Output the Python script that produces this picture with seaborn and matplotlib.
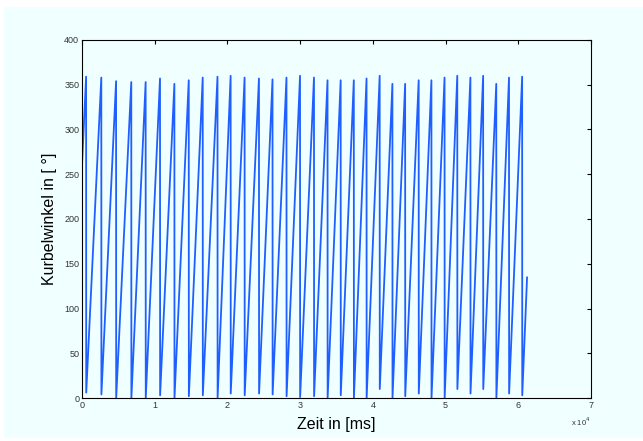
import numpy as np
import pandas as pd
import matplotlib
matplotlib.use("Agg")
import matplotlib.pyplot as plt
import seaborn as sns
from matplotlib.patches import Rectangle
from matplotlib.ticker import FuncFormatter, MultipleLocator

# --- data ---
# time [ms] at which each revolution wraps from ~360 back to ~0
wrap_times = [565, 2654, 4687, 6776, 8752, 10728, 12705, 14681, 16601, 18634,
              20440, 22360, 24336, 26200, 28120, 29983, 31903, 33766, 35573,
              37380, 39130, 40937, 42688, 44438, 46302, 48052, 49859, 51609,
              53416, 55166, 56973, 58723, 60530]
# crank angle just before each wrap [deg]
peak_values = [359, 358, 354, 353, 353, 357, 351, 355, 358, 359,
               360, 358, 357, 356, 358, 360, 358, 355, 355, 355,
               357, 360, 351, 351, 355, 355, 358, 360, 358, 360,
               351, 358, 359]
# crank angle just after each wrap [deg]
trough_values = [6, 4, 0, 0, 0, 3, 0, 2, 3, 0,
                 5, 3, 5, 4, 2, 1, 2, 0, 3, 0,
                 0, 10, 0, 2, 5, 0, 0, 10, 5, 10,
                 0, 5, 3]
start_time, start_value = 0, 260
end_time, end_value = 61208, 135

# build polyline vertices from the named arrays
t, a = [start_time], [start_value]
for wt, pv, tv in zip(wrap_times, peak_values, trough_values):
    t += [wt, wt + 15]
    a += [pv, tv]
t.append(end_time)
a.append(end_value)
df = pd.DataFrame({"Zeit": t, "Winkel": a})

sns.set_theme(style="white")
plt.rcParams["font.family"] = ["Liberation Sans", "DejaVu Sans"]

bg = "#F0FFFF"
fig = plt.figure(figsize=(6.43, 4.41), dpi=100)
fig.patch.set_facecolor("white")
fig.patches.append(Rectangle((4 / 643, 3 / 441), 1 - 4 / 643, 1 - 10 / 441,
                             transform=fig.transFigure, facecolor=bg,
                             edgecolor="none", zorder=-10))
ax = fig.add_axes([82 / 643, 1 - 398 / 441, 509 / 643, 358 / 441])
ax.set_facecolor(bg)

sns.lineplot(data=df, x="Zeit", y="Winkel", ax=ax, color="#1f5fff",
             linewidth=1.3, sort=False, estimator=None)

ax.set_xlim(0, 70000)
ax.set_ylim(0, 400)
ax.xaxis.set_major_locator(MultipleLocator(10000))
ax.yaxis.set_major_locator(MultipleLocator(50))
ax.xaxis.set_major_formatter(FuncFormatter(lambda v, p: f"{v/1e4:g}"))
ax.yaxis.set_major_formatter(FuncFormatter(lambda v, p: f"{v:g}"))

for s in ax.spines.values():
    s.set_visible(True)
    s.set_color("black")
    s.set_linewidth(0.8)

ax.tick_params(axis="both", which="major", direction="in", length=3,
               width=0.8, colors="black", labelcolor="#333333",
               labelsize=6.5, top=True, right=True, pad=2)

ax.set_xlabel("Zeit in [ms]", fontsize=11.5, color="black", labelpad=5)
ax.set_ylabel("Kurbelwinkel in [ °]", fontsize=11.5, color="black", labelpad=5)
ax.grid(False)

fig.text(571 / 643, 1 - 422 / 441, r"x 10$^{4}$", fontsize=5.5,
         color="#333333", ha="left", va="center")

fig.savefig("out.png", dpi=100, facecolor=fig.get_facecolor())
